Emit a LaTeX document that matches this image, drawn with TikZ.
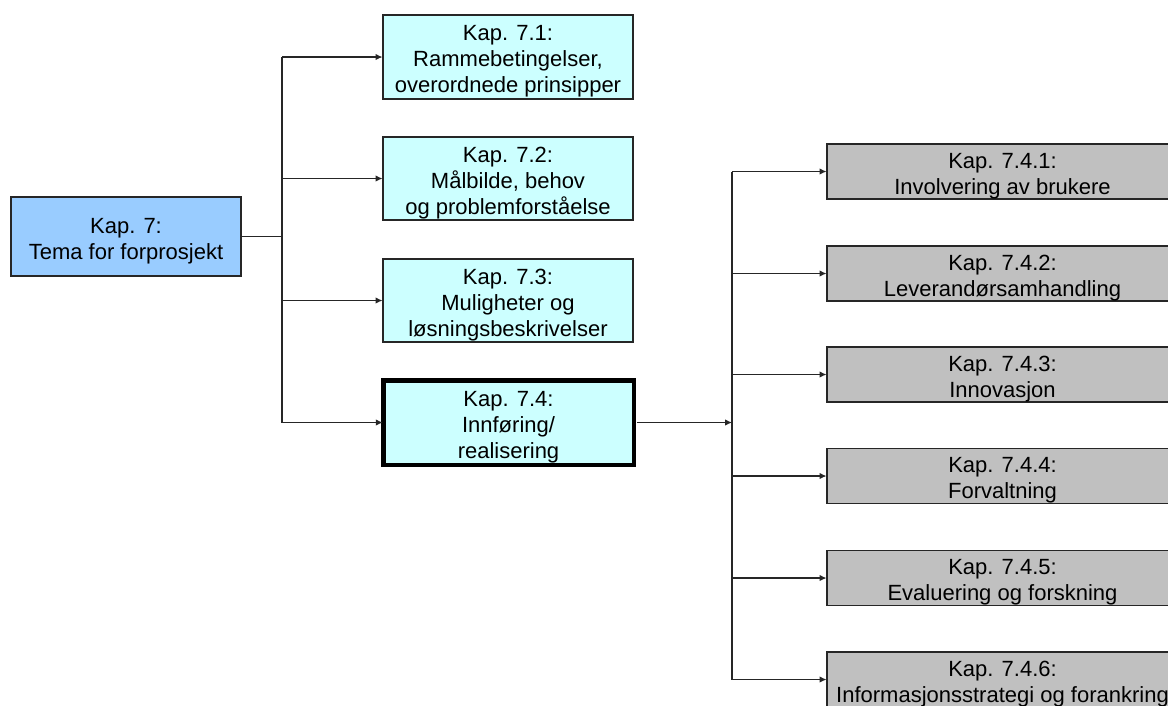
\documentclass[tikz,border=0pt]{standalone}
\usepackage{fontspec}
\setmainfont{Liberation Sans}
\usetikzlibrary{arrows.meta}
\definecolor{rootblue}{HTML}{99CCFF}
\definecolor{lightcyan}{HTML}{CCFFFF}
\definecolor{boxgray}{HTML}{C0C0C0}
\newcommand\lowerfirst{\rule{0pt}{24.5pt}}
\begin{document}
\begin{tikzpicture}[x=1pt,y=-1pt,
  every node/.style={font=\fontsize{22}{26}\selectfont, align=center, inner sep=0pt, outer sep=0pt},
  rootbox/.style={draw=black!85, line width=1.5pt, fill=rootblue, minimum width=230pt, minimum height=79pt},
  chapbox/.style={draw=black!85, line width=1.5pt, fill=lightcyan, minimum width=250pt, minimum height=83pt},
  hibox/.style={draw=black, line width=4.5pt, fill=lightcyan, minimum width=250.5pt, minimum height=84.5pt},
  subbox/.style={draw=black!85, line width=1.5pt, fill=boxgray, minimum width=351pt, minimum height=55pt},
  conn/.style={draw=black!85, line width=1.1pt},
  arr/.style={conn, -{Latex[length=7pt,width=6.5pt]}}]
\useasboundingbox (0,0) rectangle (1168,705);
\begin{scope}
\clip (0,0) rectangle (1168,705);
% nodes
\node[rootbox] (root) at (126,236.5) {\lowerfirst Kap. 7:\\Tema for forprosjekt};
\node[chapbox, minimum height=84pt] (k1) at (508,57) {\lowerfirst Kap. 7.1:\\Rammebetingelser,\\overordnede prinsipper};
\node[chapbox] (k2) at (508,178.5) {\lowerfirst Kap. 7.2:\\Målbilde, behov\\ og problemforståelse};
\node[chapbox] (k3) at (508,300.5) {\lowerfirst Kap. 7.3:\\Muligheter og\\løsningsbeskrivelser};
\node[hibox] (k4) at (508.5,422.5) {\lowerfirst Kap. 7.4:\\Innføring/\\realisering};
\node[subbox] (s1) at (1002.5,171.5) {\lowerfirst Kap. 7.4.1:\\Involvering av brukere};
\node[subbox] (s2) at (1002.5,273.5) {\lowerfirst Kap. 7.4.2:\\Leverandørsamhandling};
\node[subbox] (s3) at (1002.5,374.5) {\lowerfirst Kap. 7.4.3:\\Innovasjon};
\node[subbox] (s4) at (1002.5,476) {\lowerfirst Kap. 7.4.4:\\Forvaltning};
\node[subbox] (s5) at (1002.5,578) {\lowerfirst Kap. 7.4.5:\\Evaluering og forskning};
\node[subbox] (s6) at (1002.5,679.5) {\lowerfirst Kap. 7.4.6:\\Informasjonsstrategi og forankring};
% bus coordinates
\coordinate (busA) at (282,0);
\coordinate (busB) at (732,0);
% first level connectors
\draw[conn] (root.east) -- (root.east -| busA);
\draw[conn] (busA |- k1.west) -- (busA |- k4.west);
\foreach \k in {k1,k2,k3,k4}{
  \draw[arr] (busA |- \k.west) -- ([xshift=-0.5pt]\k.west);
}
% second level connectors
\draw[arr] ([xshift=3pt]k4.east) -- (k4.east -| busB);
\draw[conn] (busB |- s1.west) -- (busB |- s6.west);
\foreach \s in {s1,s2,s3,s4,s5,s6}{
  \draw[arr] (busB |- \s.west) -- ([xshift=-0.5pt]\s.west);
}
\end{scope}
\end{tikzpicture}
\end{document}
